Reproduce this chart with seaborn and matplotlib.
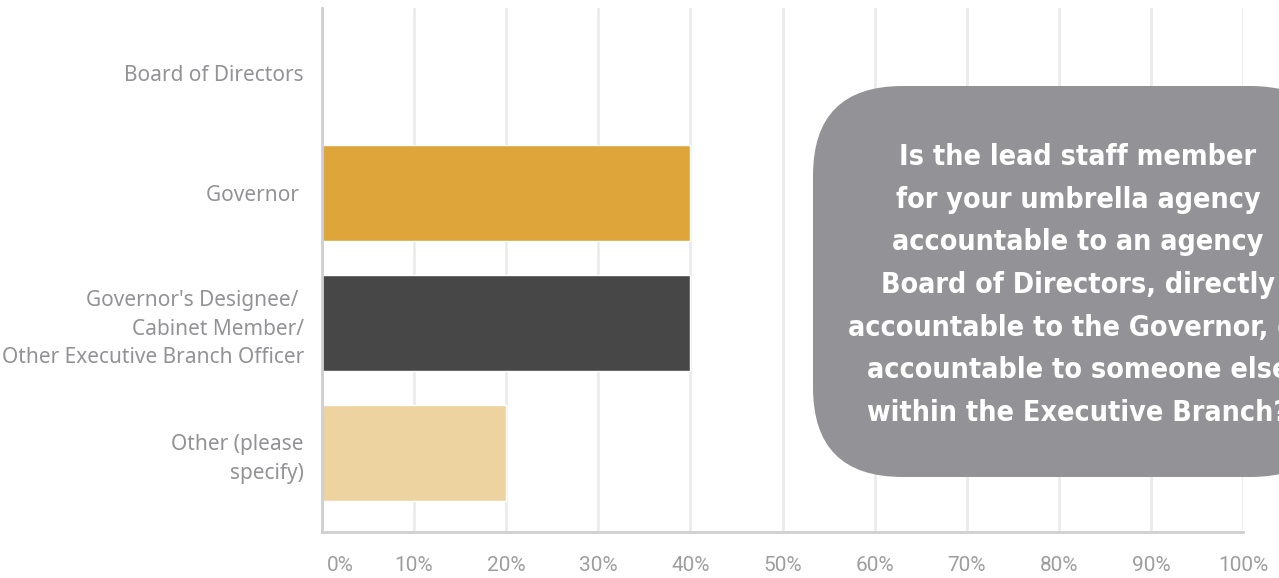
import matplotlib
matplotlib.use("Agg")
import matplotlib.pyplot as plt
import matplotlib.transforms as mtransforms
from matplotlib import font_manager
from matplotlib.patches import FancyBboxPatch
import seaborn as sns
import pandas as pd

categories = [
    "Board of Directors",
    "Governor ",
    "Governor's Designee/ \nCabinet Member/\nOther Executive Branch Officer",
    "Other (please\nspecify)",
]
shares = [0, 40, 40, 20]
bar_colors = ["#dea53b", "#dea53b", "#474747", "#edd3a0"]
x_ticks = [0, 10, 20, 30, 40, 50, 60, 70, 80, 90, 100]
x_tick_labels = [f"{v}%" for v in x_ticks]
question = ("Is the lead staff member\n"
            "for your umbrella agency\n"
            "accountable to an agency\n"
            "Board of Directors, directly\n"
            "accountable to the Governor, or\n"
            "accountable to someone else\n"
            "within the Executive Branch?")

# pick a narrow bold face for the callout if one is installed
narrow = None
for f in font_manager.fontManager.ttflist:
    n = f.name.lower()
    fn = f.fname.lower()
    if ("narrow" in n or "condensed" in n or "narrow" in fn or "condensed" in fn) and "bold" in fn:
        narrow = f.fname
        break
if narrow is None:
    for f in font_manager.fontManager.ttflist:
        if f.name == "Roboto" and "bold" in f.fname.lower() and "italic" not in f.fname.lower():
            narrow = f.fname
            break
narrow_prop = font_manager.FontProperties(fname=narrow, size=20.5) if narrow else \
    font_manager.FontProperties(family="DejaVu Sans", weight="bold", size=18)

df = pd.DataFrame({"category": categories, "share": shares})

sns.set_theme(style="white")
W, H = 1279, 578
fig = plt.figure(figsize=(W / 100, H / 100), dpi=100)
ax = fig.add_axes([322 / W, (H - 532) / H, (1243 - 322) / W, (532 - 8) / H])

sns.barplot(data=df, x="share", y="category", hue="category",
            palette=dict(zip(categories, bar_colors)), orient="h",
            width=0.74, legend=False, ax=ax, saturation=1, zorder=2)

ax.set_xlim(0, 100)
ax.set_ylim(3.608, -0.423)
ax.set_xticks(x_ticks)
ax.set_xticklabels(x_tick_labels, fontfamily="Roboto", fontsize=15, color="#9e9e9e")
ax.xaxis.grid(True, color="#ebebeb", linewidth=2, zorder=0)
ax.set_axisbelow(True)
ax.tick_params(axis="x", length=0, pad=17)
ax.tick_params(axis="y", length=0, pad=13)
ax.set_xlabel("")
ax.set_ylabel("")
for lab in ax.get_yticklabels():
    lab.set_fontfamily("Noto Sans")
    lab.set_fontsize(15)
    lab.set_color("#929297")
    lab.set_horizontalalignment("right")
    lab.set_multialignment("right")
    lab.set_linespacing(1.45)

# first percentage label sits just inside the axis
first = ax.get_xticklabels()[0]
first.set_transform(first.get_transform() + mtransforms.ScaledTranslation(18 / 100, 0, fig.dpi_scale_trans))
# board label sits slightly lower than its row
blab = ax.get_yticklabels()[0]
blab.set_transform(blab.get_transform() + mtransforms.ScaledTranslation(0, -10 / 100, fig.dpi_scale_trans))

for side in ["top", "right"]:
    ax.spines[side].set_visible(False)
for side in ["left", "bottom"]:
    ax.spines[side].set_color("#cfcfcf")
    ax.spines[side].set_linewidth(2)

# callout box with the survey question
box = FancyBboxPatch((813 / W, (H - 477) / H), (1340 - 813) / W, (477 - 86) / H,
                     boxstyle="round,pad=0,rounding_size=0.07",
                     transform=fig.transFigure, facecolor="#939297",
                     edgecolor="none", zorder=5, mutation_aspect=W / H)
fig.patches.append(box)
fig.text(1078 / W, (H - 285) / H, question, ha="center", va="center",
         multialignment="center", color="white", fontproperties=narrow_prop,
         linespacing=1.66, zorder=6)

fig.savefig("out.png", dpi=100)
